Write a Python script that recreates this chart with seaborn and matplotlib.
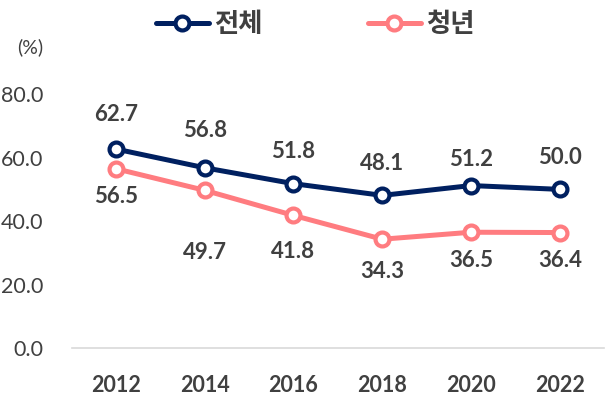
import pandas as pd
import matplotlib.pyplot as plt
import seaborn as sns

# chart data
years = ["2012", "2014", "2016", "2018", "2020", "2022"]
total = [62.7, 56.8, 51.8, 48.1, 51.2, 50.0]
youth = [56.5, 49.7, 41.8, 34.3, 36.5, 36.4]
series_names = ["전체", "청년"]

# label offsets (points) for the value annotations
total_offsets = [25, 27, 23, 23, 19, 23]
youth_offsets = [-20, -45, -26, -23, -20, -20]

NAVY = "#002060"
PINK = "#FF7C80"
TEXT = "#404040"

sns.set_theme(style="white")
plt.rcParams["font.family"] = ["Lato", "Noto Sans CJK KR", "DejaVu Sans"]

df = pd.DataFrame({"year": years, "전체": total, "청년": youth})

fig = plt.figure(figsize=(6.06, 4.11), dpi=100)
ax = fig.add_axes([0.118, 0.153, 0.879, 0.618])

for name, color in zip(series_names, [NAVY, PINK]):
    sns.lineplot(
        data=df, x="year", y=name, ax=ax, color=color, label=name,
        linewidth=3.6, marker="o", markersize=10,
        markerfacecolor="white", markeredgecolor=color, markeredgewidth=3,
        clip_on=False, zorder=3,
    )

# value labels
for i, (t, y) in enumerate(zip(total, youth)):
    ax.annotate(f"{t:.1f}", (i, t), xytext=(0, total_offsets[i]),
                textcoords="offset points", ha="center", va="center",
                fontsize=16, fontweight="bold", color=TEXT)
    ax.annotate(f"{y:.1f}", (i, y), xytext=(0, youth_offsets[i]),
                textcoords="offset points", ha="center", va="center",
                fontsize=16, fontweight="bold", color=TEXT)

ax.set_xlim(-0.5, len(years) - 0.5)
ax.set_ylim(0, 80)
ax.set_yticks([0, 20, 40, 60, 80])
ax.set_yticklabels([f"{v:.1f}" for v in [0, 20, 40, 60, 80]])
ax.tick_params(axis="y", labelsize=15.5, labelcolor=TEXT, pad=20, length=0)
ax.tick_params(axis="x", labelsize=15.5, labelcolor=TEXT, pad=19, length=0)
for lbl in ax.get_xticklabels():
    lbl.set_fontweight("bold")
ax.set_xlabel("")
ax.set_ylabel("")

for side in ["top", "right", "left"]:
    ax.spines[side].set_visible(False)
ax.spines["bottom"].set_color("#D9D9D9")
ax.spines["bottom"].set_linewidth(1.2)

fig.text(0.05, 0.885, "(%)", fontsize=14, color=TEXT, ha="center", va="center")

handles, labels = ax.get_legend_handles_labels()
ax.get_legend().remove()
fig.legend(handles, labels, loc="center", bbox_to_anchor=(0.52, 0.94), ncol=2,
           frameon=False, columnspacing=4.0, handlelength=2.0,
           handletextpad=0.2, prop={"family": ["Noto Sans CJK KR"], "size": 19,
                                    "weight": "bold"},
           labelcolor=TEXT)

fig.savefig("out.png", dpi=100)
